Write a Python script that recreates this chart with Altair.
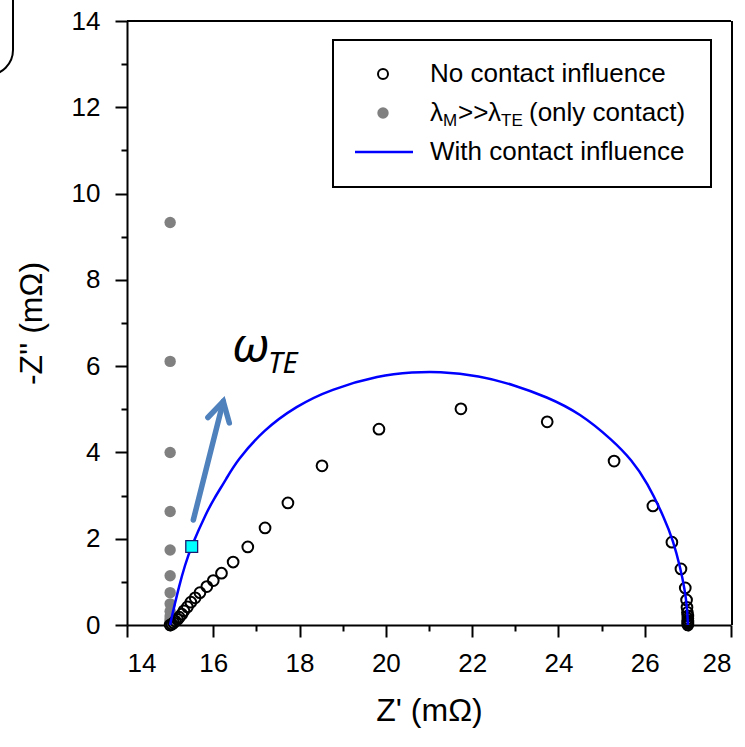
import altair as alt
import pandas as pd

# ---------------- data ----------------
# "No contact influence" (open circles), from high to low frequency
nc_x = [15.0, 15.04, 15.08, 15.12, 15.17, 15.21, 15.27, 15.32, 15.40, 15.48, 15.58,
        15.69, 15.85, 16.0, 16.19, 16.46, 16.80, 17.20, 17.73, 18.52, 19.84, 21.74,
        23.74, 25.29, 26.19, 26.63, 26.84, 26.94, 26.97, 26.98, 26.99, 27.0, 27.0,
        27.0, 27.0, 27.0, 27.0]
nc_y = [0.0, 0.02, 0.05, 0.09, 0.13, 0.18, 0.25, 0.33, 0.42, 0.53, 0.63,
        0.75, 0.89, 1.03, 1.20, 1.46, 1.81, 2.25, 2.83, 3.69, 4.54, 5.01,
        4.71, 3.80, 2.76, 1.92, 1.30, 0.86, 0.58, 0.41, 0.29, 0.21, 0.15,
        0.10, 0.07, 0.04, 0.0]

# "lambda_M >> lambda_TE (only contact)" (grey dots)
oc_x = [15.0] * 16
oc_y = [9.33, 6.11, 4.00, 2.63, 1.74, 1.14, 0.75, 0.49, 0.32, 0.21, 0.14, 0.09,
        0.06, 0.04, 0.02, 0.0]

# "With contact influence" (blue line)
wc_x = [15.0, 15.01, 15.04, 15.10, 15.20, 15.34, 15.50, 15.85, 16.0, 16.31, 16.54,
        17.16, 17.93, 18.71, 19.86, 20.64, 21.20, 22.18, 22.95, 23.73, 24.50, 25.27,
        25.70, 26.05, 26.47, 26.66, 26.82, 26.93, 26.98, 27.0, 27.0]
wc_y = [0.0, 0.05, 0.20, 0.45, 0.87, 1.38, 1.85, 2.62, 2.90, 3.40, 3.80,
        4.52, 5.08, 5.46, 5.79, 5.86, 5.88, 5.78, 5.57, 5.29, 4.91, 4.27,
        3.82, 3.32, 2.45, 1.95, 1.35, 0.81, 0.42, 0.05, 0.0]

# highlighted frequency point (cyan square)
sq_x = [15.5]
sq_y = [1.82]

# arrow annotation (omega_TE direction)
arrow_seg = ["shaft", "shaft", "head", "head", "head"]
arrow_x = [15.537, 16.232, 15.875, 16.232, 16.371]
arrow_y = [2.434, 5.183, 4.81, 5.183, 4.685]

omega_x = [16.43]
omega_y = [6.10]
te_x = [17.27]
te_y = [5.84]

x_major = [14, 16, 18, 20, 22, 24, 26, 28]
x_minor = [15, 17, 19, 21, 23, 25, 27]
y_major = [0, 2, 4, 6, 8, 10, 12, 14]
y_minor = [1, 3, 5, 7, 9, 11, 13]

legend_labels = ["No contact influence", "With contact influence"]

# ---------------- chart ----------------
W = H = 604
FONT = "Liberation Sans"

df_nc = pd.DataFrame({"x": nc_x, "y": nc_y})
df_oc = pd.DataFrame({"x": oc_x, "y": oc_y})
df_wc = pd.DataFrame({"x": wc_x, "y": wc_y, "o": list(range(len(wc_x)))})
df_sq = pd.DataFrame({"x": sq_x, "y": sq_y})
df_ar = pd.DataFrame({"x": arrow_x, "y": arrow_y, "seg": arrow_seg,
                      "o": list(range(len(arrow_x)))})
df_om = pd.DataFrame({"x": omega_x, "y": omega_y})
df_te = pd.DataFrame({"x": te_x, "y": te_y})
one = pd.DataFrame({"a": [0]})

xs = alt.Scale(domain=[14, 28], nice=False, zero=False)
ys = alt.Scale(domain=[0, 14], nice=False, zero=False)

common = dict(domainColor="black", domainWidth=2, tickColor="black", tickWidth=2,
              grid=False, labelFont=FONT, labelFontSize=26, labelColor="black",
              titleFont=FONT, titleFontSize=32, titleFontWeight="normal",
              titleColor="black")

x_major_axis = alt.Axis(orient="bottom", values=x_major, tickSize=12, labelPadding=13,
                        titlePadding=19, **common)
y_major_axis = alt.Axis(orient="left", values=y_major, tickSize=12, labelPadding=15,
                        titlePadding=23, **common)
x_minor_axis = alt.Axis(orient="bottom", values=x_minor, tickSize=6, labels=False,
                        domain=False, tickColor="black", tickWidth=2, grid=False)
y_minor_axis = alt.Axis(orient="left", values=y_minor, tickSize=6, labels=False,
                        domain=False, tickColor="black", tickWidth=2, grid=False)

def X(axis=None, title=None):
    if axis is None:
        return alt.X("x:Q", scale=xs, axis=None)
    return alt.X("x:Q", scale=xs, axis=axis, title=title)

def Y(axis=None, title=None):
    if axis is None:
        return alt.Y("y:Q", scale=ys, axis=None)
    return alt.Y("y:Q", scale=ys, axis=axis, title=title)

# frame line along the top and right
top_line = alt.Chart(one).mark_rule(color="black", strokeWidth=2).encode(
    x=alt.value(0), x2=alt.value(W), y=alt.value(0))
right_line = alt.Chart(one).mark_rule(color="black", strokeWidth=2).encode(
    x=alt.value(W + 1), y=alt.value(0), y2=alt.value(H))

# slide decoration at the top-left corner
corner = alt.Chart(one).mark_rect(fillOpacity=0, stroke="black", strokeWidth=2,
                                  cornerRadius=25).encode(
    x=alt.value(-400), x2=alt.value(-114), y=alt.value(-100), y2=alt.value(54))

grey = alt.Chart(df_oc).mark_circle(size=130, color="#808080", opacity=1).encode(
    x=X(x_major_axis, "Z' (mΩ)"), y=Y(y_major_axis, "-Z'' (mΩ)"))

openc = alt.Chart(df_nc).mark_point(shape="circle", filled=False, size=115,
                                     color="black", strokeWidth=2, opacity=1).encode(
    x=X(x_minor_axis, None), y=Y(y_minor_axis, None))

line = alt.Chart(df_wc).mark_line(color="#0000FF", strokeWidth=2.5,
                                  interpolate="basis").encode(
    x=X(), y=Y(), order="o:Q")

square = alt.Chart(df_sq).mark_point(shape="square", filled=True, size=140,
                                     fill="#00FFFF", stroke="#1a1a6e", strokeWidth=1.3,
                                     opacity=1).encode(x=X(), y=Y())

arrow = alt.Chart(df_ar).mark_line(color="#4F81BD", strokeWidth=5.5,
                                   strokeCap="round", strokeJoin="miter").encode(
    x=X(), y=Y(), detail="seg:N", order="o:Q")

omega = alt.Chart(df_om).mark_text(text="ω", font="Noto Sans", fontStyle="italic",
                                   fontSize=48, align="left", baseline="alphabetic",
                                   color="black").encode(x=X(), y=Y())
te = alt.Chart(df_te).mark_text(text="TE", font="Noto Sans", fontStyle="italic",
                                fontSize=29, align="left", baseline="alphabetic",
                                color="black").encode(x=X(), y=Y())

# ---- legend (drawn by hand because of the subscripts) ----
LX0, LX1, LY0, LY1 = 206, 584, 19, 166
SYM_X, TXT_X = 256, 303
R1, R2, R3 = 53, 92, 131
LFS = 26
SFS = 17

leg_box = alt.Chart(one).mark_rect(fill="white", stroke="black", strokeWidth=2).encode(
    x=alt.value(LX0), x2=alt.value(LX1), y=alt.value(LY0), y2=alt.value(LY1))
leg_open = alt.Chart(one).mark_point(shape="circle", filled=False, size=100,
                                      color="black", strokeWidth=2, opacity=1).encode(
    x=alt.value(SYM_X), y=alt.value(R1))
leg_grey = alt.Chart(one).mark_circle(size=130, color="#808080", opacity=1).encode(
    x=alt.value(SYM_X), y=alt.value(R2))
leg_line = alt.Chart(one).mark_rule(color="#0000FF", strokeWidth=2.5).encode(
    x=alt.value(228), x2=alt.value(286), y=alt.value(R3))

def ltxt(s, x, y, size=LFS, base="middle"):
    return alt.Chart(one).mark_text(text=s, font=FONT, fontSize=size, align="left",
                                    baseline=base, color="black").encode(
        x=alt.value(x), y=alt.value(y))

leg_t1 = ltxt(legend_labels[0], TXT_X, R1)
leg_t3 = ltxt(legend_labels[1], TXT_X, R3)
leg_t2 = [
    ltxt("λ", TXT_X, R2),
    ltxt("M", TXT_X + 13, R2 + 13, size=SFS, base="alphabetic"),
    ltxt(">>", TXT_X + 28, R2),
    ltxt("λ", TXT_X + 58, R2),
    ltxt("TE", TXT_X + 71, R2 + 13, size=SFS, base="alphabetic"),
    ltxt("(only contact)", TXT_X + 99, R2),
]

chart = alt.layer(
    top_line, right_line, corner, grey, openc, line, square, arrow, omega, te,
    leg_box, leg_open, leg_grey, leg_line, leg_t1, leg_t3, *leg_t2
).resolve_axis(x="independent", y="independent").properties(
    width=W, height=H,
    autosize=alt.AutoSizeParams(type="none"),
    padding={"left": 127, "top": 21, "right": 14, "bottom": 122},
    background="white",
).configure_view(stroke=None)

chart.save("out.html", embed_options={"renderer": "svg", "actions": False})
